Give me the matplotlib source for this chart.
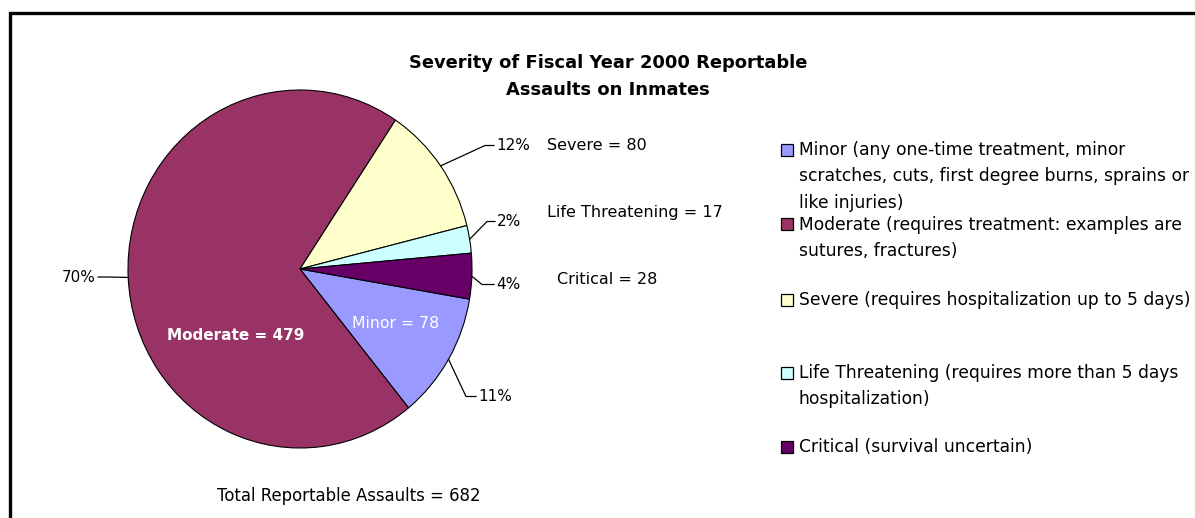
import matplotlib.pyplot as plt
from matplotlib.patches import Rectangle
import numpy as np

# Severity counts, in the order the slices are drawn (clockwise)
categories = ['Minor', 'Moderate', 'Severe', 'Life Threatening', 'Critical']
counts = [78, 479, 80, 17, 28]
colors = ['#9999FF', '#993366', '#FFFFCC', '#CCFFFF', '#660066']
legend_lines = [
    ['Minor (any one-time treatment, minor',
     'scratches, cuts, first degree burns, sprains or',
     'like injuries)'],
    ['Moderate (requires treatment: examples are',
     'sutures, fractures)'],
    ['Severe (requires hospitalization up to 5 days)'],
    ['Life Threatening (requires more than 5 days',
     'hospitalization)'],
    ['Critical (survival uncertain)'],
]
total = sum(counts)

W, H = 1195, 518
fig = plt.figure(figsize=(W / 100, H / 100), dpi=100)
plt.rcParams['font.family'] = 'DejaVu Sans'


def fx(x):
    return x / W


def fy(y):
    return 1 - y / H


# pie axes (slightly taller than wide)
left, top, right, bottom = 128, 90, 472, 448
ax = fig.add_axes([fx(left), fy(bottom), fx(right - left), (bottom - top) / H])
wedges, _ = ax.pie(counts, colors=colors, startangle=-9.7, counterclock=False,
                   radius=1, wedgeprops=dict(edgecolor='black', linewidth=0.8))
ax.set_aspect('auto')
ax.set_xlim(-1, 1)
ax.set_ylim(-1, 1)
ax.axis('off')

cx, cy = (left + right) / 2, (top + bottom) / 2
rx, ry = (right - left) / 2, (bottom - top) / 2


def edge_point(w):
    t = np.deg2rad((w.theta1 + w.theta2) / 2)
    return cx + rx * np.cos(t), cy - ry * np.sin(t)


# percentage labels with leader lines: (elbow, line end, text x, text y, ha)
leaders = {
    'Severe': ((485, 145.5), (494, 145.5), 496, 145.5, 'left'),
    'Life Threatening': ((487, 221.5), (495, 221.5), 497, 221.5, 'left'),
    'Critical': ((482, 284.5), (494, 284.5), 496, 284.5, 'left'),
    'Minor': ((466, 396.5), (476, 396.5), 478, 396.5, 'left'),
    'Moderate': ((108, 277), (98, 277), 96, 277, 'right'),
}
for w, cat, n in zip(wedges, categories, counts):
    ex, ey = edge_point(w)
    (bx, by), (lx, ly), tx, ty, ha = leaders[cat]
    fig.add_artist(plt.Line2D([fx(ex), fx(bx), fx(lx)], [fy(ey), fy(by), fy(ly)],
                              color='black', linewidth=0.9))
    fig.text(fx(tx), fy(ty), f'{round(n / total * 100)}%', ha=ha, va='center',
             fontsize=11)

# category value labels
side_labels = {'Severe': (547, 145), 'Life Threatening': (547, 212),
               'Critical': (557, 279)}
for cat, n in zip(categories, counts):
    if cat in side_labels:
        x, y = side_labels[cat]
        fig.text(fx(x), fy(y), f'{cat} = {n}', ha='left', va='center', fontsize=11.5)

fig.text(fx(236), fy(335), f'Moderate = {counts[1]}', ha='center', va='center',
         fontsize=11, color='white', fontweight='bold')
fig.text(fx(396), fy(323), f'Minor = {counts[0]}', ha='center', va='center',
         fontsize=11.3, color='white')

fig.text(fx(608), fy(76.5), 'Severity of Fiscal Year 2000 Reportable\nAssaults on Inmates',
         ha='center', va='center', fontsize=12.9, fontweight='bold', linespacing=1.6)

fig.text(fx(349), fy(496), f'Total Reportable Assaults = {total}', ha='center',
         va='center', fontsize=11.9)

# legend
entry_rows = [[150, 176.5, 203], [224.5, 251], [300], [373, 399.5], [446.5]]
for lines, rows, c in zip(legend_lines, entry_rows, colors):
    fig.add_artist(Rectangle((fx(781), fy(rows[0] + 6)), 12 / W, 12 / H,
                             facecolor=c, edgecolor='black', linewidth=0.9,
                             transform=fig.transFigure))
    for txt, y in zip(lines, rows):
        fig.text(fx(799), fy(y), txt, ha='left', va='center', fontsize=12.3)

# chart border (runs off the right and bottom of the image)
fig.add_artist(Rectangle((fx(9.5), fy(H + 20)), (W + 20) / W, (H + 20 - 12.5) / H,
                         fill=False, edgecolor='black', linewidth=2.4,
                         transform=fig.transFigure))

fig.savefig('out.png', dpi=100)
